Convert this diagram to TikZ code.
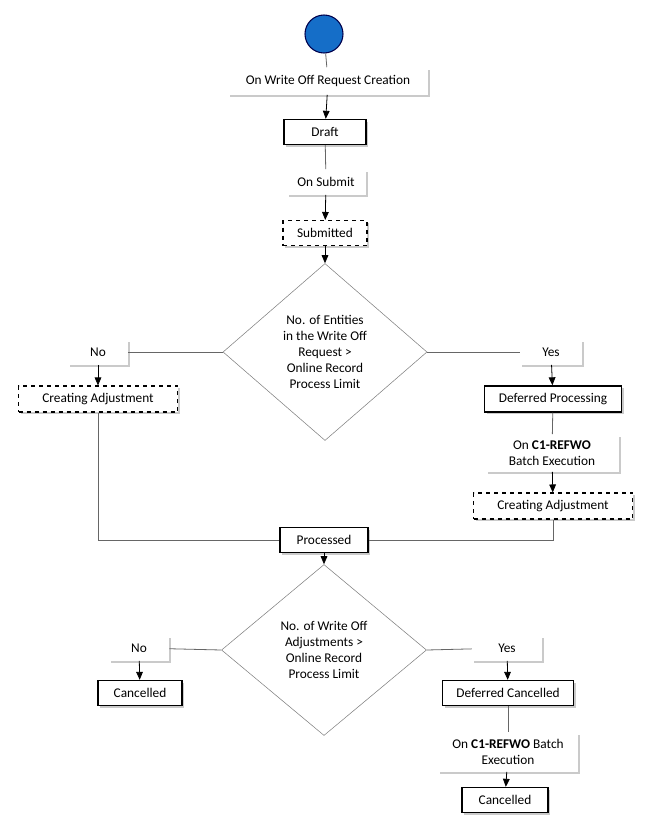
\documentclass[tikz,border=0pt]{standalone}
\usepackage{fontspec}
\setmainfont{Carlito}
\usetikzlibrary{shapes.geometric,shadows,arrows.meta}
\begin{document}
\begin{tikzpicture}[x=0.75pt,y=-0.75pt,font=\fontsize{10}{12}\selectfont,
 shd/.style={drop shadow={shadow xshift=1.5pt,shadow yshift=-1.5pt,fill=black!35,opacity=0.6}},
 lbl/.style={fill=white,shd,inner sep=0pt,align=center},
 state/.style={draw,line width=1pt,fill=white,shd,inner sep=0pt},
 dstate/.style={draw,dashed,line width=0.8pt,fill=white,shd,inner sep=0pt},
 dec/.style={diamond,draw=black!50,fill=white,inner sep=0pt,align=center},
 ln/.style={draw=black!60,line width=0.6pt},
 arr/.style={ln,-{Triangle[length=6pt,width=5pt]},draw=black}]
\useasboundingbox (0,0) rectangle (649,835);
\node[circle,draw=black!70!blue,fill={rgb,255:red,21;green,110;blue,200},line width=0.8pt,minimum size=38*0.75pt] (st) at (324,34) {};
\node[lbl,minimum width=200*0.75pt,minimum height=27*0.75pt] (l1) at (328,81) {On Write Off Request Creation};
\node[state,minimum width=82*0.75pt,minimum height=25*0.75pt] (draft) at (325,132) {Draft};
\node[lbl,minimum width=79*0.75pt,minimum height=25*0.75pt] (l2) at (326,182) {On Submit};
\node[dstate,minimum width=84*0.75pt,minimum height=25*0.75pt] (sub) at (325,233) {Submitted};
\node[dec,minimum width=204*0.75pt,minimum height=177*0.75pt] (d1) at (325,352) {No. of Entities\\in the Write Off\\Request >\\Online Record\\Process Limit};
\node[lbl,minimum width=60*0.75pt,minimum height=25*0.75pt] (no1) at (98,352) {No};
\node[dstate,minimum width=159*0.75pt,minimum height=26*0.75pt] (ca1) at (98,399) {Creating Adjustment};
\node[lbl,minimum width=62*0.75pt,minimum height=25*0.75pt] (yes1) at (551,352) {Yes};
\node[state,minimum width=137*0.75pt,minimum height=26*0.75pt] (dp) at (553,399) {Deferred Processing};
\node[lbl,minimum width=133*0.75pt,minimum height=37*0.75pt] (l3) at (552,453) {On \textbf{C1-REFWO}\\Batch Execution};
\node[dstate,minimum width=159*0.75pt,minimum height=26*0.75pt] (ca2) at (553,506) {Creating Adjustment};
\node[state,minimum width=88*0.75pt,minimum height=25*0.75pt] (proc) at (324,540) {Processed};
\node[dec,minimum width=205*0.75pt,minimum height=171*0.75pt] (d2) at (324,650) {No. of Write Off\\Adjustments >\\Online Record\\Process Limit};
\node[lbl,minimum width=60*0.75pt,minimum height=25*0.75pt] (no2) at (139,648) {No};
\node[state,minimum width=84*0.75pt,minimum height=25*0.75pt] (c1) at (140,693) {Cancelled};
\node[lbl,minimum width=70*0.75pt,minimum height=25*0.75pt] (yes2) at (507,648) {Yes};
\node[state,minimum width=131*0.75pt,minimum height=25*0.75pt] (dc) at (508,693) {Deferred Cancelled};
\node[lbl,minimum width=140*0.75pt,minimum height=39*0.75pt] (l4) at (508,752) {On \textbf{C1-REFWO} Batch\\Execution};
\node[state,minimum width=86*0.75pt,minimum height=25*0.75pt] (c2) at (505,800) {Cancelled};
\draw[ln] (st) -- (l1);
\draw[arr] (l1) -- (draft);
\draw[ln] (draft) -- (l2);
\draw[arr] (l2) -- (sub);
\draw[arr] (sub) -- (d1);
\draw[ln] (d1.west) -- (no1);
\draw[arr] (no1) -- (ca1);
\draw[ln] (d1.east) -- (yes1);
\draw[arr] (yes1) -- (dp);
\draw[ln] (dp) -- (l3);
\draw[arr] (l3) -- (ca2);
\draw[ln] (ca1) |- (proc);
\draw[ln] (ca2) |- (proc);
\draw[arr] (proc) -- (d2);
\draw[ln] (d2.west) -- (no2);
\draw[arr] (no2) -- (c1);
\draw[ln] (d2.east) -- (yes2);
\draw[arr] (yes2) -- (dc);
\draw[ln] (dc) -- (l4);
\draw[arr] (l4) -- (c2);
\end{tikzpicture}
\end{document}
